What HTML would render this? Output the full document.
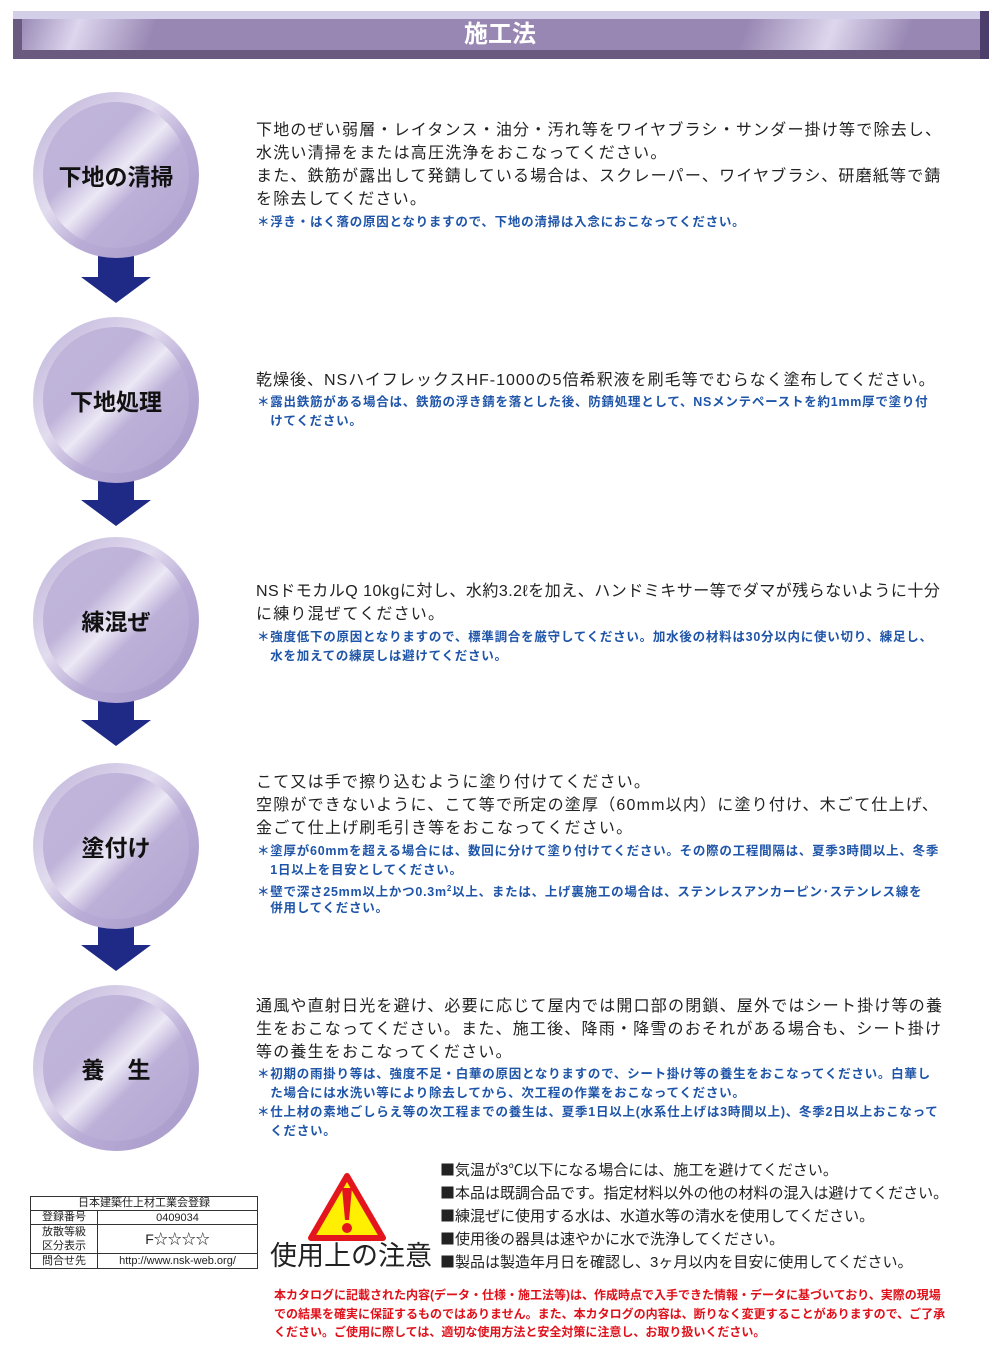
<!DOCTYPE html>
<html><head><meta charset="utf-8">
<style>
body{margin:0;width:1000px;height:1349px;position:relative;background:#fff;overflow:hidden;font-family:"Liberation Sans","Noto Sans CJK JP",sans-serif;}
.l{position:absolute;left:256px;white-space:nowrap;font-size:16px;letter-spacing:1.2px;line-height:20px;color:#222;}
.b{position:absolute;left:257px;white-space:nowrap;font-size:12.5px;letter-spacing:0.75px;line-height:16px;color:#1f55a8;font-weight:bold;}
.r{position:absolute;left:274px;white-space:nowrap;font-size:12px;letter-spacing:0px;line-height:16px;color:#e0101a;font-weight:bold;}
.m{position:absolute;left:440px;white-space:nowrap;font-size:15px;letter-spacing:0px;line-height:20px;color:#222;}
.m i{font-style:normal;font-family:"Noto Sans CJK JP",sans-serif;}
.c{position:absolute;left:33px;width:166px;height:166px;border-radius:50%;background:linear-gradient(135deg,#bdb1d8 0%,#e2dcef 40%,#b9acd6 60%,#a597c8 100%);}
.c::after{content:"";position:absolute;left:10px;top:10px;right:10px;bottom:10px;border-radius:50%;background:linear-gradient(135deg,#c0b5da 0%,#bfb3d9 35%,#ece8f5 50%,#bcb0d8 62%,#b2a5d1 100%);}
.c span{position:absolute;z-index:2;left:0;right:0;top:0;bottom:0;display:flex;align-items:center;justify-content:center;font-size:23px;font-weight:bold;color:#111;}
.a{position:absolute;left:81px;width:70px;height:56px;}
</style></head><body>
<div style="position:absolute;left:13px;top:11px;width:976px;height:48px;background:#6a5a80;"></div>
<div style="position:absolute;left:13px;top:11px;width:976px;height:8px;background:#d4cfe8;"></div>
<div style="position:absolute;left:22px;top:19px;width:958px;height:31px;background:linear-gradient(110deg,#9a8ab6 0%,#ddd6ee 6%,#9887b3 14%,#9887b3 75%,#ddd7ed 84%,#9887b3 92%);"></div>
<div style="position:absolute;left:980px;top:11px;width:9px;height:48px;background:#4c3e6a;"></div>
<div style="position:absolute;left:0;top:19px;width:1000px;text-align:center;font-size:24px;line-height:31px;color:#fff;font-weight:bold;">施工法</div>

<svg class="a" style="top:247px" viewBox="0 0 70 56"><polygon points="17,0 53,0 53,30 70,30 35,56 0,30 17,30" fill="#1f2a86"/></svg>
<svg class="a" style="top:470px" viewBox="0 0 70 56"><polygon points="17,0 53,0 53,30 70,30 35,56 0,30 17,30" fill="#1f2a86"/></svg>
<svg class="a" style="top:690px" viewBox="0 0 70 56"><polygon points="17,0 53,0 53,30 70,30 35,56 0,30 17,30" fill="#1f2a86"/></svg>
<svg class="a" style="top:915px" viewBox="0 0 70 56"><polygon points="17,0 53,0 53,30 70,30 35,56 0,30 17,30" fill="#1f2a86"/></svg>

<div class="c" style="top:92px"><span>下地の清掃</span></div>
<div class="c" style="top:317px"><span>下地処理</span></div>
<div class="c" style="top:537px"><span>練混ぜ</span></div>
<div class="c" style="top:763px"><span>塗付け</span></div>
<div class="c" style="top:985px"><span>養　生</span></div>

<div class="l" style="top:121px">下地のぜい弱層・レイタンス・油分・汚れ等をワイヤブラシ・サンダー掛け等で除去し、</div>
<div class="l" style="top:144px">水洗い清掃をまたは高圧洗浄をおこなってください。</div>
<div class="l" style="top:167px">また、鉄筋が露出して発錆している場合は、スクレーパー、ワイヤブラシ、研磨紙等で錆</div>
<div class="l" style="top:190px">を除去してください。</div>
<div class="b" style="top:214px">＊浮き・はく落の原因となりますので、下地の清掃は入念におこなってください。</div>

<div class="l" style="top:371px;letter-spacing:1px">乾燥後、NSハイフレックスHF-1000の5倍希釈液を刷毛等でむらなく塗布してください。</div>
<div class="b" style="top:394px">＊露出鉄筋がある場合は、鉄筋の浮き錆を落とした後、防錆処理として、NSメンテペーストを約1mm厚で塗り付</div>
<div class="b" style="top:413px">　けてください。</div>

<div class="l" style="top:582px;letter-spacing:0.5px">NSドモカルQ 10kgに対し、水約3.2ℓを加え、ハンドミキサー等でダマが残らないように十分</div>
<div class="l" style="top:605px">に練り混ぜてください。</div>
<div class="b" style="top:629px">＊強度低下の原因となりますので、標準調合を厳守してください。加水後の材料は30分以内に使い切り、練足し、</div>
<div class="b" style="top:648px">　水を加えての練戻しは避けてください。</div>

<div class="l" style="top:773px">こて又は手で擦り込むように塗り付けてください。</div>
<div class="l" style="top:796px">空隙ができないように、こて等で所定の塗厚（60mm以内）に塗り付け、木ごて仕上げ、</div>
<div class="l" style="top:819px">金ごて仕上げ刷毛引き等をおこなってください。</div>
<div class="b" style="top:843px">＊塗厚が60mmを超える場合には、数回に分けて塗り付けてください。その際の工程間隔は、夏季3時間以上、冬季</div>
<div class="b" style="top:862px">　1日以上を目安としてください。</div>
<div class="b" style="top:881px">＊壁で深さ25mm以上かつ0.3m<sup style="font-size:8px">2</sup>以上、または、上げ裏施工の場合は、ステンレスアンカーピン･ステンレス線を</div>
<div class="b" style="top:900px">　併用してください。</div>

<div class="l" style="top:997px">通風や直射日光を避け、必要に応じて屋内では開口部の閉鎖、屋外ではシート掛け等の養</div>
<div class="l" style="top:1020px">生をおこなってください。また、施工後、降雨・降雪のおそれがある場合も、シート掛け</div>
<div class="l" style="top:1043px">等の養生をおこなってください。</div>
<div class="b" style="top:1066px">＊初期の雨掛り等は、強度不足・白華の原因となりますので、シート掛け等の養生をおこなってください。白華し</div>
<div class="b" style="top:1085px">　た場合には水洗い等により除去してから、次工程の作業をおこなってください。</div>
<div class="b" style="top:1104px">＊仕上材の素地ごしらえ等の次工程までの養生は、夏季1日以上(水系仕上げは3時間以上)、冬季2日以上おこなって</div>
<div class="b" style="top:1123px">　ください。</div>

<table style="position:absolute;left:30px;top:1196px;width:228px;border-collapse:collapse;font-size:11px;color:#222;text-align:center;border:1.5px solid #333;">
<tr><td colspan="2" style="border:1px solid #333;height:13px;line-height:13px;padding:0;">日本建築仕上材工業会登録</td></tr>
<tr><td style="border:1px solid #333;width:66px;height:13px;line-height:13px;padding:0;">登録番号</td><td style="border:1px solid #333;padding:0;">0409034</td></tr>
<tr><td style="border:1px solid #333;line-height:14px;padding:0;">放散等級<br>区分表示</td><td style="border:1px solid #333;padding:0;font-size:14px;">F☆☆☆☆</td></tr>
<tr><td style="border:1px solid #333;height:14px;line-height:14px;padding:0;">問合せ先</td><td style="border:1px solid #333;padding:0;">http://www.nsk-web.org/</td></tr>
</table>

<svg style="position:absolute;left:308px;top:1172px" width="78" height="70" viewBox="0 0 78 70"><polygon points="39,4 75,66 3,66" fill="#ffef00" stroke="#e3151d" stroke-width="6" stroke-linejoin="round"/><polygon points="34,16 44,16 41,48 37,48" fill="#e3151d"/><circle cx="39" cy="56" r="5" fill="#e3151d"/></svg>
<div style="position:absolute;left:270px;top:1238px;font-size:27px;line-height:36px;color:#222;white-space:nowrap;">使用上の注意</div>

<div class="m" style="top:1160px"><i>■</i>気温が3℃以下になる場合には、施工を避けてください。</div>
<div class="m" style="top:1183px"><i>■</i>本品は既調合品です。指定材料以外の他の材料の混入は避けてください。</div>
<div class="m" style="top:1206px"><i>■</i>練混ぜに使用する水は、水道水等の清水を使用してください。</div>
<div class="m" style="top:1229px"><i>■</i>使用後の器具は速やかに水で洗浄してください。</div>
<div class="m" style="top:1252px"><i>■</i>製品は製造年月日を確認し、3ヶ月以内を目安に使用してください。</div>

<div class="r" style="top:1287px">本カタログに記載された内容(データ・仕様・施工法等)は、作成時点で入手できた情報・データに基づいており、実際の現場</div>
<div class="r" style="top:1306px">での結果を確実に保証するものではありません。また、本カタログの内容は、断りなく変更することがありますので、ご了承</div>
<div class="r" style="top:1324px">ください。ご使用に際しては、適切な使用方法と安全対策に注意し、お取り扱いください。</div>
</body></html>
